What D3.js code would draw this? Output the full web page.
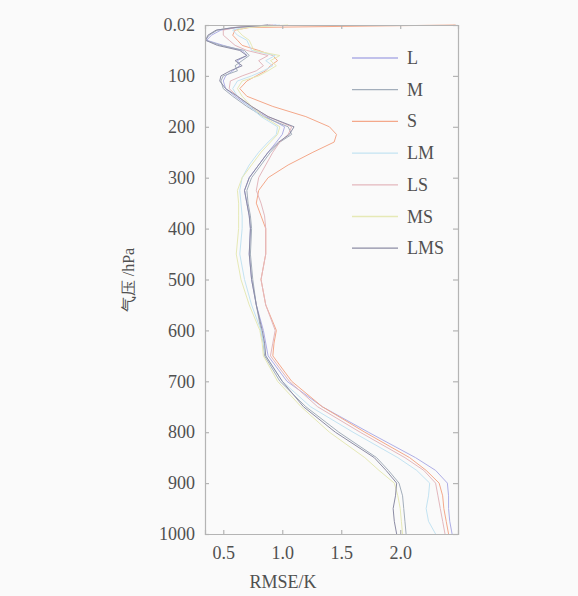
<!DOCTYPE html>
<html>
<head>
<meta charset="utf-8">
<script src="https://cdn.jsdelivr.net/npm/d3@7"></script>
<style>
  body { margin: 0; background: #fafafa; }
  svg text { font-family: "Liberation Serif", "DejaVu Serif", "Times New Roman", serif; fill: #505050; }
</style>
</head>
<body>
<script>
var w = 578,
    h = 596;

var plotLeft = 205, plotRight = 458, plotTop = 25, plotBottom = 534;

// pressure levels (hPa)
var levels = [0.02, 5, 10, 20, 30, 40, 50, 60, 70, 80, 90, 100, 110, 125, 140, 160, 180, 200, 215, 230,
  250, 275, 300, 325, 350, 375, 400, 450, 500, 550, 600, 625, 650, 700, 750, 800, 850, 875, 900, 925, 950, 975, 1000];

var seriesNames = ['L', 'M', 'S', 'LM', 'LS', 'MS', 'LMS'];
var seriesColors = ['#aeaee6', '#a3aebb', '#f4a88a', '#c3e3f2', '#e3b7bd', '#e6e9b6', '#8c8ca4'];

// RMSE (K) per level
var L = [0.95,0.62,0.48,0.40,0.36,0.50,0.66,0.70,0.62,0.64,0.58,0.52,0.50,0.52,0.60,0.72,0.86,1.02,1.00,0.95,
  0.88,0.80,0.72,0.68,0.70,0.72,0.73,0.72,0.74,0.78,0.84,0.86,0.88,1.04,1.34,1.73,2.13,2.30,2.40,2.41,2.41,2.42,2.44];
var M = [0.90,0.58,0.45,0.38,0.35,0.48,0.68,0.72,0.66,0.60,0.62,0.50,0.48,0.50,0.58,0.70,0.84,1.05,1.08,0.98,
  0.90,0.82,0.74,0.70,0.71,0.73,0.74,0.73,0.75,0.78,0.82,0.84,0.85,0.98,1.20,1.48,1.80,1.90,1.99,2.02,2.03,2.04,2.05];
var S = [2.47,0.72,0.60,0.58,0.62,0.66,0.80,0.92,0.96,0.90,0.86,0.78,0.70,0.64,0.70,0.92,1.20,1.40,1.46,1.44,
  1.26,1.05,0.88,0.80,0.78,0.82,0.86,0.86,0.82,0.86,0.95,0.93,0.92,1.08,1.34,1.70,2.08,2.22,2.33,2.36,2.37,2.39,2.41];
var LM = [0.98,0.66,0.58,0.62,0.70,0.72,0.74,0.94,0.86,0.92,0.84,0.74,0.62,0.58,0.62,0.72,0.82,0.96,0.95,0.88,
  0.80,0.72,0.66,0.64,0.65,0.66,0.66,0.64,0.68,0.74,0.82,0.84,0.86,1.00,1.24,1.60,1.98,2.14,2.25,2.24,2.22,2.24,2.30];
var LS = [0.92,0.60,0.50,0.50,0.55,0.60,0.70,0.88,0.80,0.84,0.78,0.66,0.56,0.55,0.62,0.74,0.88,1.08,1.05,0.98,
  0.92,0.86,0.80,0.78,0.82,0.85,0.86,0.86,0.82,0.86,0.94,0.92,0.90,1.06,1.30,1.66,2.04,2.20,2.30,2.32,2.34,2.36,2.38];
var MS = [1.05,0.70,0.62,0.66,0.72,0.74,0.76,0.98,0.90,0.95,0.88,0.80,0.66,0.62,0.66,0.74,0.84,0.98,0.96,0.90,
  0.82,0.74,0.66,0.62,0.63,0.63,0.63,0.61,0.65,0.72,0.81,0.83,0.84,0.96,1.16,1.40,1.70,1.82,1.95,1.98,2.00,2.01,2.02];
var LMS = [0.88,0.60,0.44,0.37,0.35,0.45,0.64,0.70,0.60,0.66,0.56,0.48,0.47,0.52,0.62,0.74,0.88,1.10,1.06,0.97,
  0.88,0.80,0.72,0.68,0.70,0.72,0.73,0.72,0.74,0.78,0.83,0.85,0.86,1.00,1.18,1.45,1.78,1.88,1.97,1.96,1.94,1.95,1.97];

var seriesValues = [L, M, S, LM, LS, MS, LMS];

var yTicks = [0.02, 100, 200, 300, 400, 500, 600, 700, 800, 900, 1000];
var xTicks = [0.5, 1.0, 1.5, 2.0];

var svg = d3.select('body')
    .append('svg')
    .attr('width', w)
    .attr('height', h);

var x = d3.scaleLinear()
    .domain([0.345, 2.49])
    .range([plotLeft, plotRight]);

var y = d3.scaleLinear()
    .domain([0, 1000])
    .range([plotTop, plotBottom]);

svg.append('clipPath')
    .attr('id', 'clip')
  .append('rect')
    .attr('x', plotLeft)
    .attr('y', plotTop - 1)
    .attr('width', plotRight - plotLeft)
    .attr('height', plotBottom - plotTop + 2);

// curves
var line = d3.line()
    .x(function(d){ return x(d.v); })
    .y(function(d){ return y(d.p); });

var curves = svg.append('g').attr('clip-path', 'url(#clip)');

seriesNames.forEach(function(name, i){
    var pts = levels.map(function(p, j){ return {p: p, v: seriesValues[i][j]}; });
    curves.append('path')
        .datum(pts)
        .attr('fill', 'none')
        .attr('stroke', seriesColors[i])
        .attr('stroke-width', 1)
        .attr('d', line);
});

// frame + axes
var axisColor = '#b4b4b4';

svg.append('g')
    .attr('transform', 'translate(' + plotLeft + ',0)')
    .call(d3.axisLeft(y).tickValues(yTicks).tickSize(-4).tickPadding(10)
        .tickFormat(function(d){ return d === 0.02 ? '0.02' : d; }));

svg.append('g')
    .attr('transform', 'translate(' + plotRight + ',0)')
    .call(d3.axisRight(y).tickValues(yTicks).tickSize(-5).tickFormat(''));

svg.append('g')
    .attr('transform', 'translate(0,' + plotBottom + ')')
    .call(d3.axisBottom(x).tickValues(xTicks).tickSize(-4).tickPadding(12)
        .tickFormat(d3.format('.1f')));

svg.append('g')
    .attr('transform', 'translate(0,' + plotTop + ')')
    .call(d3.axisTop(x).tickValues(xTicks).tickSize(-4).tickFormat(''));

svg.selectAll('.domain, .tick line')
    .attr('stroke', axisColor)
    .attr('stroke-width', 1.2);

svg.selectAll('.tick text')
    .attr('font-family', null)
    .style('font-size', '18px');

// axis titles
svg.append('text')
    .attr('x', 283)
    .attr('y', 588)
    .attr('text-anchor', 'middle')
    .style('font-size', '18px')
    .text('RMSE/K');

svg.append('text')
    .attr('transform', 'translate(134,280) rotate(-90)')
    .attr('text-anchor', 'middle')
    .style('font-size', '16px')
    .text('气压 /hPa');

// legend
var legend = svg.append('g')
    .attr('transform', 'translate(352,58)');

seriesNames.forEach(function(name, i){
    var g = legend.append('g').attr('transform', 'translate(0,' + i * 31.7 + ')');
    g.append('line')
        .attr('x1', 0).attr('x2', 46)
        .attr('stroke', seriesColors[i])
        .attr('stroke-width', 1.3);
    g.append('text')
        .attr('x', 55)
        .attr('y', 6)
        .style('font-size', '18px')
        .text(name);
});
</script>
</body>
</html>
